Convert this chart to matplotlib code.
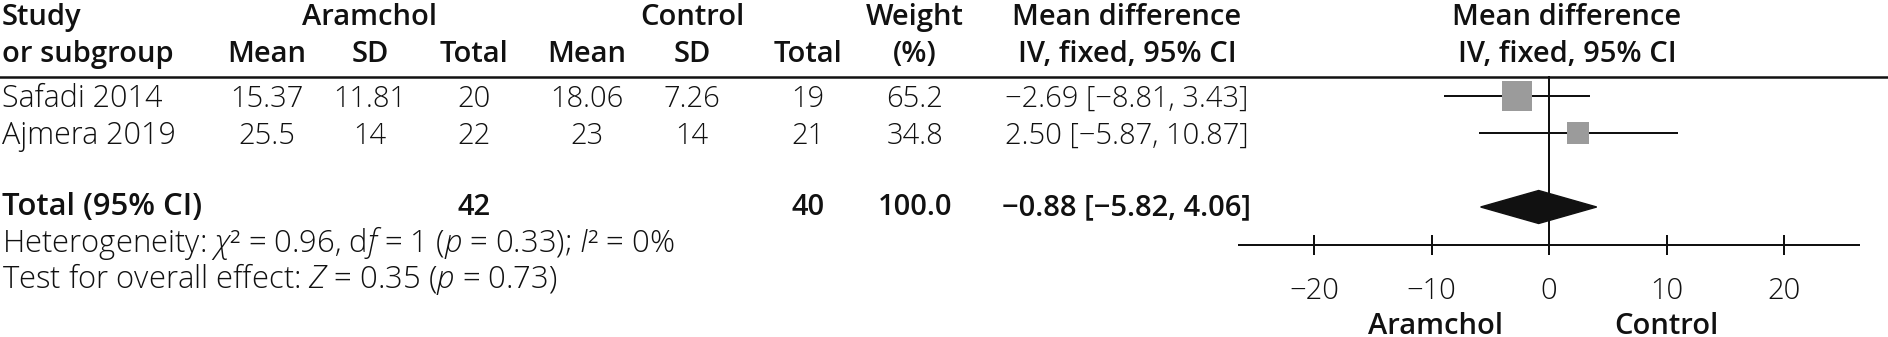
import numpy as np
import matplotlib
matplotlib.use('Agg')
import matplotlib.pyplot as plt
from matplotlib.patches import Polygon

#%% data
studies = ['Safadi 2014', 'Ajmera 2019']
aram_mean = [15.37, 25.5]
aram_sd = [11.81, 14]
aram_n = [20, 22]
ctrl_mean = [18.06, 23]
ctrl_sd = [7.26, 14]
ctrl_n = [19, 21]
weights = [65.2, 34.8]
md = [-2.69, 2.50]
md_lo = [-8.81, -5.87]
md_hi = [3.43, 10.87]

total_label = 'Total (95% CI)'
total_aram_n = 42
total_ctrl_n = 40
total_weight = 100.0
total_md = -0.88
total_lo = -5.82
total_hi = 4.06

xticks = [-20, -10, 0, 10, 20]
het_text = r'Heterogeneity: $\chi$² = 0.96, d$f$ = 1 ($p$ = 0.33); $I$² = 0%'
eff_text = r'Test for overall effect: $Z$ = 0.35 ($p$ = 0.73)'
favours = ['Aramchol', 'Control']

#%% style
plt.rcParams['font.family'] = ['Open Sans', 'DejaVu Sans']
plt.rcParams['mathtext.fontset'] = 'custom'
plt.rcParams['mathtext.rm'] = 'Open Sans:light'
plt.rcParams['mathtext.it'] = 'Open Sans:italic:light'
plt.rcParams['axes.unicode_minus'] = True

FS = 21        # numbers and headers
FS_LAB = 22    # study names
FS_FOOT = 22.3 # total label and footnotes
INK = '#111111'
GREY = '#9b9b9b'
LW = 1.44

def minus(s):
    return s.replace('-', '\u2212')

def fmt_ci(m, lo, hi):
    return minus(f'{m:.2f} [{lo:.2f}, {hi:.2f}]')

W, H = 1888, 337
fig = plt.figure(figsize=(W / 100, H / 100), dpi=100)
ax = fig.add_axes([0, 0, 1, 1])
ax.set_xlim(0, W)
ax.set_ylim(H, 0)
ax.axis('off')

# column centres (px)
col_study = 2
col_am, col_asd, col_an = 267, 370, 474
col_cm, col_csd, col_cn = 587, 692, 808
col_w = 915
col_md = 1127
col_fp = 1567

# baselines (px)
y_h1, y_h2 = 25, 62
y_rows = [107, 144]
y_tot = 215
y_het, y_eff = 252, 288

def txt(x, y, s, ha='center', weight='light', size=FS):
    ax.text(x, y, s, ha=ha, va='baseline', fontsize=size, weight=weight, color=INK)

# header
txt(col_study, y_h1, 'Study', 'left', 'semibold')
txt(col_study, y_h2, 'or subgroup', 'left', 'semibold')
txt(col_asd, y_h1, 'Aramchol', weight='semibold')
txt(col_csd, y_h1, 'Control', weight='semibold')
for x, s in zip([col_am, col_asd, col_an, col_cm, col_csd, col_cn],
                ['Mean', 'SD', 'Total', 'Mean', 'SD', 'Total']):
    txt(x, y_h2, s, weight='semibold')
txt(col_w, y_h1, 'Weight', weight='semibold')
txt(col_w, y_h2, '(%)', weight='semibold')
for x in [col_md, col_fp]:
    txt(x, y_h1, 'Mean difference', weight='semibold')
    txt(x, y_h2, 'IV, fixed, 95% CI', weight='semibold')
ax.plot([0, W], [76.5, 76.5], color=INK, lw=1.8)

# study rows
for i, s in enumerate(studies):
    y = y_rows[i]
    txt(col_study, y, s, 'left', size=FS_LAB)
    txt(col_am, y, f'{aram_mean[i]:g}')
    txt(col_asd, y, f'{aram_sd[i]:g}')
    txt(col_an, y, f'{aram_n[i]}')
    txt(col_cm, y, f'{ctrl_mean[i]:g}')
    txt(col_csd, y, f'{ctrl_sd[i]:g}')
    txt(col_cn, y, f'{ctrl_n[i]}')
    txt(col_w, y, f'{weights[i]:.1f}')
    txt(col_md, y, fmt_ci(md[i], md_lo[i], md_hi[i]))

# total
txt(col_study, y_tot, total_label, 'left', 'semibold', size=FS_FOOT)
txt(col_an, y_tot, f'{total_aram_n}', weight='semibold')
txt(col_cn, y_tot, f'{total_ctrl_n}', weight='semibold')
txt(col_w, y_tot, f'{total_weight:.1f}', weight='semibold')
txt(col_md, y_tot, fmt_ci(total_md, total_lo, total_hi), weight='semibold')
txt(col_study, y_het, het_text, 'left', size=FS_FOOT)
txt(col_study, y_eff, eff_text, 'left', size=FS_FOOT)

#%% forest panel
x_zero, px_per_unit, half_range = 1549, 11.75, 26.4
left = x_zero - half_range * px_per_unit
fa = fig.add_axes([left / W, 0, 2 * half_range * px_per_unit / W, 1])
fa.set_xlim(-half_range, half_range)
fa.set_ylim(H, 0)
fa.patch.set_visible(False)
for sp in ['top', 'left', 'right']:
    fa.spines[sp].set_visible(False)
y_axis = 245
fa.spines['bottom'].set_position(('data', y_axis))
fa.spines['bottom'].set_linewidth(LW)
fa.spines['bottom'].set_color(INK)
fa.set_yticks([])
fa.set_xticks(xticks)
fa.set_xticklabels([minus(str(t)) for t in xticks])
fa.tick_params(axis='x', direction='inout', length=14.4, width=LW, pad=15.5,
               labelsize=FS, colors=INK)
for lab in fa.get_xticklabels():
    lab.set_fontweight('light')

fa.plot([0, 0], [76.5, y_axis], color=INK, lw=LW)
y_ci = [95.5, 133]
for i in range(len(studies)):
    fa.plot([md_lo[i], md_hi[i]], [y_ci[i], y_ci[i]], color=INK, lw=LW, zorder=2)
    side = 3.6 * np.sqrt(weights[i]) * 0.72
    fa.plot(md[i], y_ci[i], marker='s', ms=side, mew=0, color=GREY, zorder=3)

yd, hd = 207, 16.5
fa.add_patch(Polygon([(total_lo, yd), (total_md, yd - hd), (total_hi, yd),
                      (total_md, yd + hd)], closed=True, color=INK, zorder=4))

txt(1436, 334, favours[0], weight='semibold')
txt(1666, 334, favours[1], weight='semibold')

fig.savefig('out.png', dpi=100)
